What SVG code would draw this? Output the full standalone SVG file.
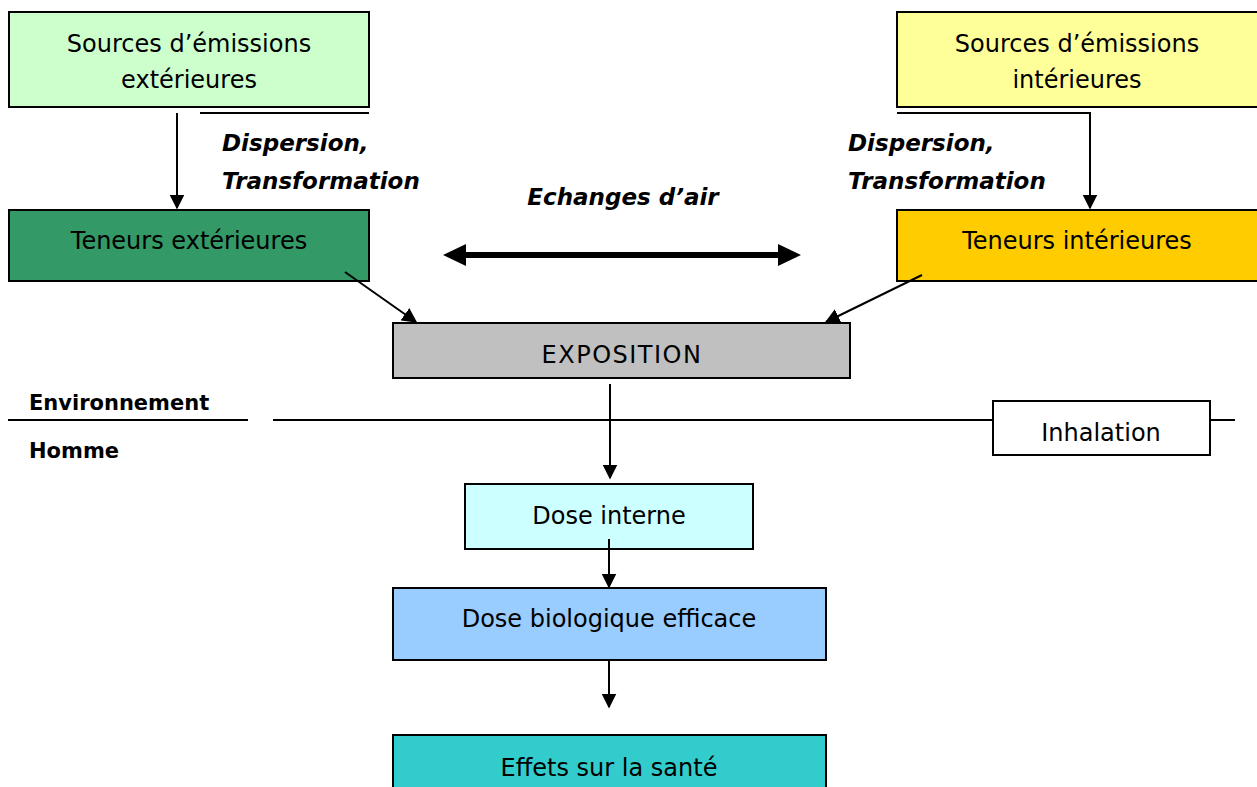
<svg xmlns="http://www.w3.org/2000/svg" width="1257" height="787" viewBox="0 0 1257 787">
<defs>
<style>
.box{stroke:#000;stroke-width:2}
.t{font-family:"DejaVu Sans","Noto Sans",sans-serif;font-size:24px;fill:#000;text-anchor:middle}
.bi{font-family:"DejaVu Sans","Noto Sans",sans-serif;font-size:23px;font-weight:bold;font-style:italic;fill:#000}
.b{font-family:"DejaVu Sans","Noto Sans",sans-serif;font-size:21px;font-weight:bold;fill:#000}
.ln{stroke:#000;stroke-width:2;fill:none}
</style>
<marker id="ah" viewBox="0 0 10 10" refX="9" refY="5" markerWidth="15" markerHeight="15" markerUnits="userSpaceOnUse" orient="auto">
<path d="M0,0 L10,5 L0,10 Z" fill="#000"/>
</marker>
</defs>
<rect width="1257" height="787" fill="#fff"/>

<g id="src-ext">
<rect class="box" x="9" y="12" width="360" height="95" fill="#CCFFCC"/>
<text class="t" x="189" y="52">Sources d’émissions</text>
<text class="t" x="189" y="88">extérieures</text>
</g>
<g id="src-int">
<rect class="box" x="897" y="12" width="362" height="95" fill="#FFFF99"/>
<text class="t" x="1077" y="52">Sources d’émissions</text>
<text class="t" x="1077" y="88">intérieures</text>
</g>
<g id="ten-ext">
<rect class="box" x="9" y="210" width="360" height="71" fill="#339966"/>
<text class="t" x="189" y="249">Teneurs extérieures</text>
</g>
<g id="ten-int">
<rect class="box" x="897" y="210" width="362" height="71" fill="#FFCC00"/>
<text class="t" x="1077" y="249">Teneurs intérieures</text>
</g>
<g id="exposition">
<rect class="box" x="393" y="323" width="457" height="55" fill="#C0C0C0"/>
<text class="t" x="622" y="363" letter-spacing="1.5">EXPOSITION</text>
</g>
<g id="inhalation">
<rect class="box" x="993" y="401" width="217" height="54" fill="#fff"/>
<text class="t" x="1101" y="441">Inhalation</text>
</g>
<g id="dose-interne">
<rect class="box" x="465" y="484" width="288" height="65" fill="#CCFFFF"/>
<text class="t" x="609" y="524">Dose interne</text>
</g>
<g id="dose-bio">
<rect class="box" x="393" y="588" width="433" height="72" fill="#99CCFF"/>
<text class="t" x="609" y="627">Dose biologique efficace</text>
</g>
<g id="effets">
<rect class="box" x="393" y="735" width="433" height="60" fill="#33CCCC"/>
<text class="t" x="609" y="776">Effets sur la santé</text>
</g>

<g id="labels">
<text class="bi" x="222" y="151">Dispersion,</text>
<text class="bi" x="222" y="189">Transformation</text>
<text class="bi" x="848" y="151">Dispersion,</text>
<text class="bi" x="848" y="189">Transformation</text>
<text class="bi" x="623" y="205" text-anchor="middle">Echanges d’air</text>
<text class="b" x="29" y="410">Environnement</text>
<text class="b" x="29" y="458">Homme</text>
</g>

<g id="connectors">
<line class="ln" x1="200" y1="113" x2="369" y2="113"/>
<line class="ln" x1="177" y1="113" x2="177" y2="208" marker-end="url(#ah)"/>
<polyline class="ln" points="897,113 1090,113 1090,208" marker-end="url(#ah)"/>
<line class="ln" x1="345" y1="272" x2="416" y2="322" marker-end="url(#ah)"/>
<line class="ln" x1="922" y1="275" x2="826" y2="322" marker-end="url(#ah)"/>
<path d="M443,255 L466,244 L466,252 L778,252 L778,244 L801,255 L778,266 L778,258 L466,258 L466,266 Z" fill="#000"/>
<line class="ln" x1="8" y1="420" x2="248" y2="420"/>
<line class="ln" x1="273" y1="420" x2="993" y2="420"/>
<line class="ln" x1="1210" y1="420" x2="1235" y2="420"/>
<line class="ln" x1="610" y1="384" x2="610" y2="478" marker-end="url(#ah)"/>
<line class="ln" x1="609" y1="539" x2="609" y2="587" marker-end="url(#ah)"/>
<line class="ln" x1="609" y1="660" x2="609" y2="707" marker-end="url(#ah)"/>
</g>
</svg>
